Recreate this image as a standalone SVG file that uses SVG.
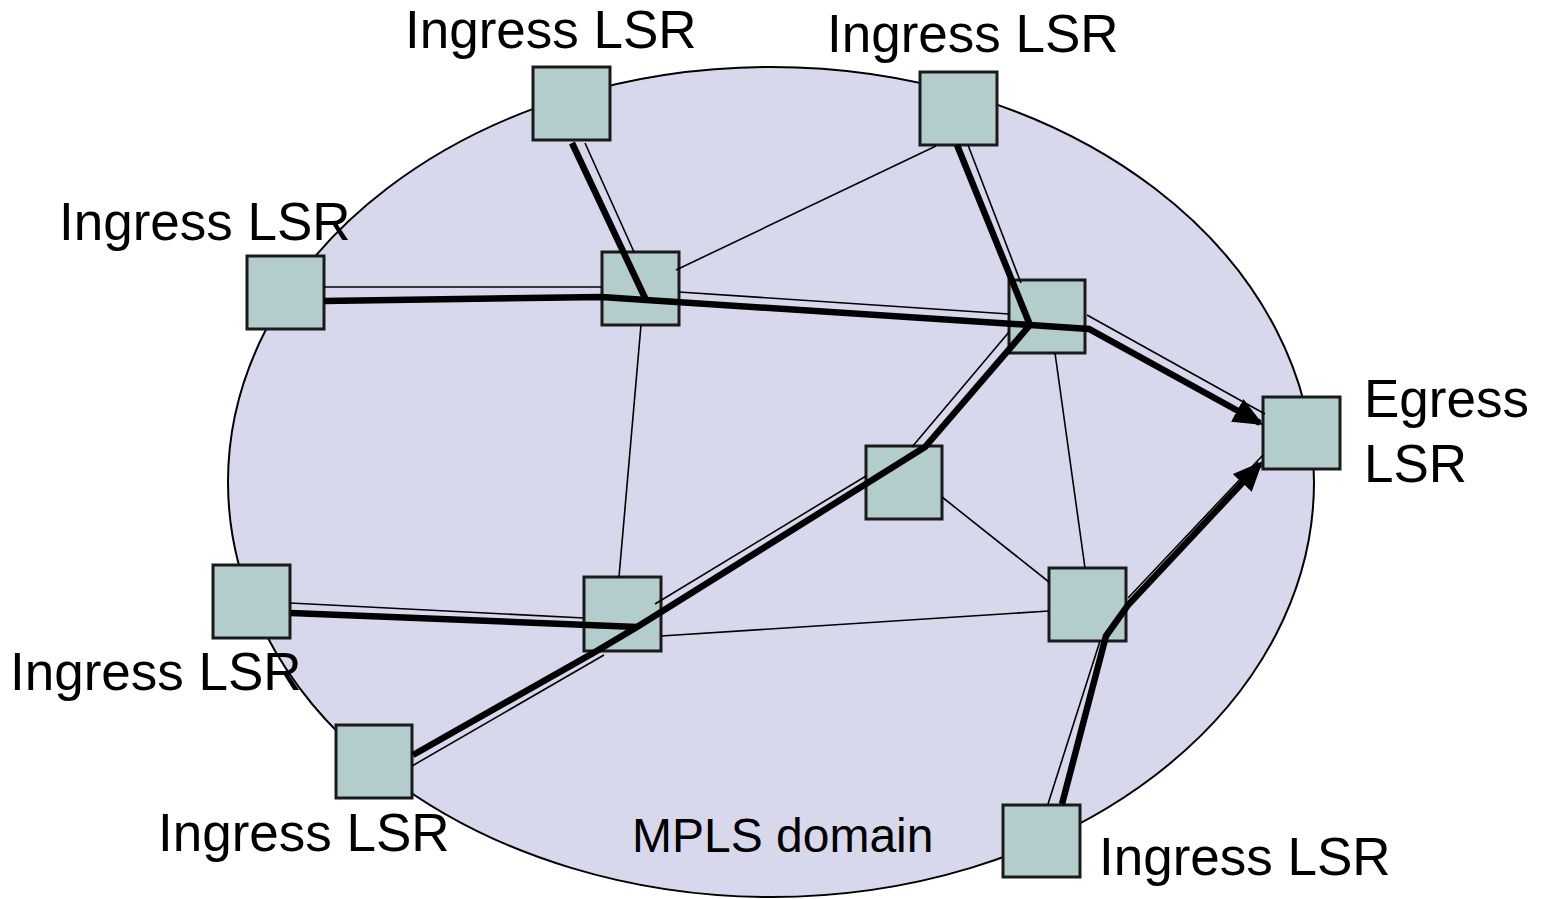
<svg xmlns="http://www.w3.org/2000/svg" width="1544" height="899" viewBox="0 0 1544 899">
<style>
.lbl{font-family:"Liberation Sans",Arial,sans-serif;font-size:53px;fill:#000}
.dom{font-family:"Liberation Sans",Arial,sans-serif;font-size:48px;fill:#000}
.box{fill:#B3CCCC;stroke:#1a1a1a;stroke-width:3}
.thin{stroke:#000;stroke-width:1.6;fill:none}
.thick{stroke:#000;stroke-width:6.5;fill:none;stroke-linejoin:miter}
</style>
<defs>
<marker id="arr" markerWidth="4.6" markerHeight="4" refX="4" refY="2" orient="auto" markerUnits="strokeWidth">
<path d="M0,0 L4.6,2 L0,4 Z" fill="#000"/>
</marker>
</defs>
<rect width="1544" height="899" fill="#fff"/>
<g id="domain">
<ellipse cx="771" cy="482" rx="543" ry="415" fill="#D8D8EC" stroke="#000" stroke-width="2"/>
<text class="dom" x="632" y="852">MPLS domain</text>
</g>
<g id="n-ing-top1"><rect class="box" x="533" y="67" width="77" height="73"/><text class="lbl" x="405" y="48">Ingress LSR</text></g>
<g id="n-ing-top2"><rect class="box" x="920" y="72" width="77" height="73"/><text class="lbl" x="827" y="52">Ingress LSR</text></g>
<g id="n-ing-left"><rect class="box" x="247" y="256" width="77" height="73"/><text class="lbl" x="59" y="240">Ingress LSR</text></g>
<g id="n-core-a"><rect class="box" x="602" y="252" width="77" height="73"/></g>
<g id="n-core-b"><rect class="box" x="1009" y="280" width="76" height="73"/></g>
<g id="n-egress"><rect class="box" x="1263" y="397" width="77" height="72"/><text class="lbl" x="1364" y="417">Egress</text><text class="lbl" x="1364" y="482">LSR</text></g>
<g id="n-core-c"><rect class="box" x="866" y="446" width="76" height="73"/></g>
<g id="n-ing-lowleft"><rect class="box" x="213" y="565" width="77" height="73"/><text class="lbl" x="10" y="690">Ingress LSR</text></g>
<g id="n-core-d"><rect class="box" x="584" y="577" width="77" height="74"/></g>
<g id="n-core-e"><rect class="box" x="1049" y="568" width="77" height="73"/></g>
<g id="n-ing-botleft"><rect class="box" x="336" y="725" width="76" height="73"/><text class="lbl" x="158" y="851">Ingress LSR</text></g>
<g id="n-ing-botright"><rect class="box" x="1003" y="805" width="77" height="72"/><text class="lbl" x="1099" y="875">Ingress LSR</text></g>
<g id="connectors">
<line class="thin" x1="676" y1="270" x2="936" y2="146"/>
<line class="thin" x1="641" y1="325" x2="619" y2="577"/>
<line class="thin" x1="1055" y1="353" x2="1085" y2="568"/>
<line class="thin" x1="942" y1="497" x2="1049" y2="582"/>
<line class="thin" x1="661" y1="636" x2="1049" y2="611"/>
<line class="thin" x1="324" y1="287" x2="602" y2="287"/>
<line class="thin" x1="585" y1="143" x2="634" y2="252"/>
<line class="thin" x1="679" y1="292" x2="1009" y2="314"/>
<line class="thin" x1="968" y1="145" x2="1021" y2="283"/>
<line class="thin" x1="1087" y1="315" x2="1265" y2="414"/>
<line class="thin" x1="290" y1="603" x2="584" y2="618"/>
<line class="thin" x1="412" y1="766" x2="604" y2="655"/>
<line class="thin" x1="655" y1="604" x2="866" y2="476"/>
<line class="thin" x1="912" y1="447" x2="1009" y2="332"/>
<line class="thin" x1="1128" y1="598" x2="1263" y2="455"/>
<line class="thin" x1="1048" y1="804" x2="1100" y2="641"/>
<polyline class="thick" points="324,301 602,297 646,300 1030,325 1089,329 1260,423" marker-end="url(#arr)"/>
<polyline class="thick" points="572,143 646,300"/>
<polyline class="thick" points="957,145 1030,325"/>
<polyline class="thick" points="1030,325 925,447 637,627 595,652 413,755"/>
<polyline class="thick" points="291,613 637,627"/>
<polyline class="thick" points="1062,804 1106,636 1128,605 1260,464" marker-end="url(#arr)"/>
</g>
</svg>
